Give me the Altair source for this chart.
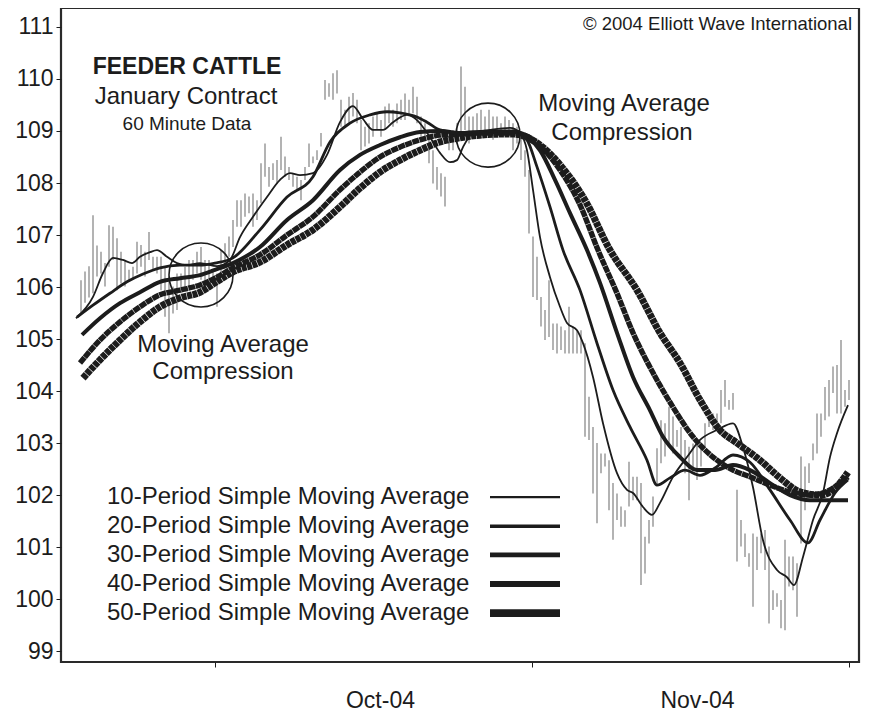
import altair as alt
import pandas as pd

# ---------------- data ----------------
FIRST_BAR = 5  # hourly bar index of the first bar
bar_high = [
    106.13, 106.30, 106.40, 107.38, 106.80, 106.68, 106.46, 107.19, 107.16, 106.94,
    106.68, 106.52, 106.33, 106.39, 106.87, 106.81, 106.68, 107.06, 106.58, 106.58,
    106.58, 106.39, 106.20, 106.01, 106.26, 106.26, 106.39, 106.52, 106.52, 106.68,
    106.77, 106.52, 106.52, 106.33, 106.26, 106.71, 106.84, 106.97, 107.29, 107.67,
    107.67, 107.80, 107.74, 107.80, 107.67, 108.38, 108.76, 108.31, 108.38, 108.44,
    108.89, 108.51, 108.31, 108.19, 108.12, 108.06, 108.31, 108.76, 108.51, 108.63,
    108.96, 109.98, 109.92, 110.11, 110.17, 109.60, 109.41, 109.66, 109.73, 109.60,
    109.21, 109.08, 109.15, 109.28, 109.34, 109.21, 109.47, 109.53, 109.41, 109.53,
    109.60, 109.72, 109.60, 109.85, 109.66, 109.28, 109.15, 108.89, 108.63, 108.31,
    108.19, 108.12, 108.89, 109.02, 109.15, 110.24, 109.85, 109.28, 109.28, 109.34,
    109.41, 109.28, 109.41, 109.28, 109.28, 109.15, 109.28, 109.21, 109.15, 109.08,
    108.89, 108.63, 108.25, 106.97, 106.58, 105.81, 105.56, 106.13, 105.30, 105.30,
    105.24, 105.17, 105.62, 105.24, 105.17, 105.17, 104.92, 103.89, 103.31, 103.00,
    102.80, 102.80, 102.67, 102.23, 102.03, 101.78, 101.71, 102.64, 102.35, 102.35,
    102.23, 101.20, 101.52, 101.97, 102.90, 103.44, 103.38, 103.70, 103.51, 103.25,
    103.31, 103.06, 102.93, 102.99, 103.06, 102.99, 103.38, 103.57, 103.57, 103.57,
    104.02, 104.21, 103.83, 103.96, 102.10, 101.52, 101.26, 100.88, 101.26, 101.20,
    101.26, 101.33, 101.01, 100.17, 100.11, 99.98, 101.14, 100.82, 100.82, 100.69,
    102.74, 102.55, 102.61, 102.99, 103.57, 103.57, 104.08, 104.21, 104.47, 104.50,
    104.98, 104.02, 104.21,
]
bar_low = [
    105.49, 105.70, 105.80, 105.88, 106.20, 106.26, 106.01, 106.39, 106.52, 105.94,
    106.07, 106.01, 106.10, 106.14, 106.26, 106.39, 106.20, 106.52, 106.33, 106.26,
    105.94, 105.43, 105.11, 105.49, 105.56, 105.88, 105.94, 106.01, 106.14, 106.26,
    106.14, 105.94, 105.94, 106.07, 105.62, 106.26, 106.39, 106.58, 106.77, 107.16,
    107.16, 107.35, 107.42, 107.16, 107.29, 107.61, 108.12, 107.93, 108.06, 107.99,
    108.25, 108.12, 108.06, 107.93, 107.87, 107.67, 108.06, 108.31, 108.38, 108.44,
    108.70, 109.60, 109.66, 109.60, 109.72, 109.08, 109.08, 109.15, 109.28, 109.15,
    108.63, 108.70, 108.76, 108.89, 109.02, 108.89, 109.02, 109.15, 109.08, 109.15,
    109.21, 109.21, 109.28, 109.34, 109.15, 108.89, 108.83, 108.38, 107.99, 107.87,
    107.74, 107.55, 108.63, 108.63, 108.76, 108.83, 109.02, 108.76, 108.89, 108.96,
    109.02, 108.96, 109.02, 108.83, 109.02, 108.89, 109.02, 108.96, 108.63, 108.76,
    108.44, 108.12, 107.03, 105.81, 105.75, 105.24, 104.98, 105.04, 104.79, 104.72,
    104.79, 104.72, 104.72, 104.72, 104.72, 104.72, 103.12, 103.06, 102.03, 101.46,
    102.42, 102.55, 101.71, 101.14, 101.52, 101.39, 101.39, 101.78, 101.90, 101.90,
    100.27, 100.49, 101.07, 101.39, 102.20, 102.61, 102.74, 102.93, 102.80, 102.93,
    102.74, 102.42, 101.90, 102.48, 102.29, 102.55, 102.93, 103.31, 103.25, 103.25,
    103.38, 103.70, 103.64, 103.64, 100.72, 101.01, 100.81, 100.62, 99.85, 100.56,
    100.88, 100.56, 99.53, 99.79, 99.85, 99.44, 99.40, 100.24, 100.17, 99.66,
    101.07, 101.71, 102.23, 102.67, 102.80, 103.12, 103.44, 103.51, 103.96, 103.57,
    103.57, 103.70, 103.83,
]

ma10_x = [3.75, 8, 10.5, 13, 15.5, 17.75, 19.75, 22.25, 24, 26.5, 29, 31.5, 34.75, 39, 42.25,
          44.75, 48, 51.5, 54.75, 57.25, 59.75, 63, 66.5, 69.75, 73, 75.5, 78, 80.5, 83, 86.5,
          89, 92.25, 94.75, 97.25, 99, 100.5, 103, 107.25, 112.25, 114.75, 116.5, 118, 119.75,
          122.25, 124.75, 126.5, 129, 130.5, 133, 135.5, 139, 141.5, 143, 145.5, 147.75, 149.75,
          153, 156.5, 159.75, 164, 168, 170.5, 173, 175.5, 179, 181.5, 183.25, 185.5, 188,
          190.5, 192.25, 194, 196.75]
ma10_y = [105.40, 105.81, 106.27, 106.56, 106.52, 106.46, 106.58, 106.67, 106.71, 106.58,
          106.46, 106.42, 106.46, 106.40, 106.52, 106.96, 107.35, 107.73, 108.06, 108.19,
          108.15, 108.19, 108.54, 109.17, 109.48, 109.23, 109.02, 109.02, 109.17, 109.31,
          109.21, 108.88, 108.58, 108.40, 108.44, 108.69, 108.96, 109.02, 109.06, 108.96,
          108.63, 107.87, 106.96, 106.19, 105.62, 105.31, 105.17, 104.92, 104.27, 103.38,
          102.42, 102.10, 102.04, 101.77, 101.62, 101.85, 102.35, 102.73, 103.06, 103.25,
          103.38, 102.92, 102.15, 101.13, 100.56, 100.42, 100.27, 100.81, 101.52, 102.04,
          102.73, 103.19, 103.73]

ma20_x = [4, 8, 12.25, 16.5, 20.5, 24.75, 29.75, 34.75, 38.5, 43, 49.75, 56.5, 63, 67.25,
          72.25, 77.25, 81.5, 84.75, 89, 91.5, 94.75, 99.75, 104.75, 109.75, 113.5, 116.5,
          119, 122.25, 125.5, 129.75, 134, 138, 142.25, 146.5, 149, 152.25, 156, 159.75,
          163.5, 168, 172.25, 177.25, 182.25, 186.75, 189.75, 193.5, 196.75]
ma20_y = [105.42, 105.65, 105.88, 106.10, 106.25, 106.37, 106.42, 106.42, 106.46, 106.56,
          107.10, 107.73, 108.12, 108.79, 109.15, 109.31, 109.37, 109.35, 109.27, 109.17,
          109.02, 108.96, 108.98, 109.00, 109.00, 108.83, 108.31, 107.54, 106.71, 105.94,
          104.92, 104.02, 103.31, 102.67, 102.19, 102.33, 102.48, 102.38, 102.52, 102.77,
          102.63, 102.10, 101.52, 101.08, 101.52, 102.04, 102.29]

ma30_x = [5.25, 9.75, 14.75, 19.75, 24.75, 29.75, 34.75, 38.5, 43, 49.75, 56.5, 63, 69.75,
          74.75, 79.75, 84.75, 89.75, 94.75, 99.75, 104.75, 109.75, 113.5, 116.5, 119.75,
          123.5, 127.25, 131.5, 134.75, 139, 143, 147.25, 150.5, 154.75, 159, 163.5, 168,
          172.25, 177.25, 182.25, 187.25, 192.25, 196.75]
ma30_y = [105.08, 105.40, 105.69, 105.90, 106.10, 106.17, 106.23, 106.33, 106.46, 106.77,
          107.29, 107.67, 108.25, 108.54, 108.73, 108.88, 108.98, 109.00, 108.96, 108.98,
          108.98, 108.98, 108.88, 108.63, 108.06, 107.42, 106.71, 106.08, 105.12, 104.27,
          103.63, 103.12, 102.73, 102.48, 102.48, 102.58, 102.48, 102.23, 102.00, 101.90,
          101.90, 101.90]

ma40_x = [4.75, 9.75, 14.75, 19.75, 24.75, 29.75, 34.75, 38.5, 43, 49.75, 56.5, 63, 69.75,
          74.75, 79.75, 84.75, 89.75, 94.75, 99.75, 104.75, 109.75, 113.5, 116.5, 119.75,
          124.75, 129.75, 134.25, 139, 143, 148, 153, 158, 163, 168, 172.25, 177.25, 182.25,
          187.25, 192.25, 196.75]
ma40_y = [104.54, 104.98, 105.33, 105.62, 105.85, 105.94, 106.04, 106.17, 106.37, 106.62,
          107.00, 107.35, 107.87, 108.21, 108.50, 108.69, 108.83, 108.92, 108.94, 108.96,
          108.96, 108.96, 108.90, 108.71, 108.25, 107.58, 106.71, 105.88, 105.12, 104.35,
          103.69, 103.12, 102.73, 102.48, 102.35, 102.19, 102.06, 102.00, 102.10, 102.35]

ma50_x = [5.5, 9.75, 14.75, 19.75, 24.75, 29.75, 34.75, 38.5, 43, 49.75, 56.5, 63, 69.75,
          74.75, 79.75, 84.75, 89.75, 94.75, 99.75, 104.75, 109.75, 113.5, 116.5, 119.75,
          124.75, 131, 137.25, 144, 149.75, 154.75, 159.75, 164.75, 169, 174.75, 179.75,
          184.75, 189.75, 193.5, 196.75]
ma50_y = [104.25, 104.60, 104.98, 105.33, 105.62, 105.79, 105.90, 106.08, 106.29, 106.48,
          106.81, 107.10, 107.54, 107.90, 108.21, 108.44, 108.63, 108.79, 108.87, 108.92,
          108.94, 108.94, 108.88, 108.73, 108.35, 107.67, 106.71, 105.94, 105.12, 104.54,
          103.83, 103.25, 103.00, 102.67, 102.33, 102.06, 102.00, 102.13, 102.44]

series_names = [
    "10-Period Simple Moving Average",
    "20-Period Simple Moving Average",
    "30-Period Simple Moving Average",
    "40-Period Simple Moving Average",
    "50-Period Simple Moving Average",
]
y_ticks = [99, 100, 101, 102, 103, 104, 105, 106, 107, 108, 109, 110, 111]
month_ticks = [38.5, 117.75, 197]
month_labels = ["Oct-04", "Nov-04", ""]

# ---------------- layout / style ----------------
FONT = "Liberation Sans"
INK = "#1c1c1c"
X_DOMAIN = [0, 199.5]
Y_DOMAIN = [98.79, 111.365]
xs = alt.Scale(domain=X_DOMAIN, nice=False, zero=False)
ys = alt.Scale(domain=Y_DOMAIN, nice=False, zero=False)

line_widths = [1.8, 2.8, 4.0, 5.4, 7.0]
line_dashes = [None, None, None, [7, 0.5], [5, 0.6]]

label_expr = " : ".join(
    f"datum.value == {v} ? '{t}'" for v, t in zip(month_ticks, month_labels)
) + " : ''"

x_axis = alt.Axis(
    values=month_ticks, labelExpr=label_expr, labelOffset=165, labelPadding=22,
    labelFontSize=23, labelFont=FONT, labelColor=INK, labelFlush=False,
    labelOverlap=False, tickSize=5, tickColor=INK, domain=False, grid=False, title=None,
)
y_axis = alt.Axis(
    values=y_ticks, format="d", labelFontSize=23, labelFont=FONT, labelColor=INK,
    labelPadding=3, tickSize=5, tickColor=INK, domain=False, grid=False, title=None,
)

bars = pd.DataFrame({
    "x": list(range(FIRST_BAR, FIRST_BAR + len(bar_high))),
    "high": bar_high,
    "low": bar_low,
})

base_bars = alt.Chart(bars).mark_rule(color="#9a9a9a", strokeWidth=1.5).encode(
    x=alt.X("x:Q", scale=xs, axis=x_axis),
    y=alt.Y("high:Q", scale=ys, axis=y_axis),
    y2="low:Q",
)

ma_x = [ma10_x, ma20_x, ma30_x, ma40_x, ma50_x]
ma_y = [ma10_y, ma20_y, ma30_y, ma40_y, ma50_y]

line_layers = []
for i in reversed(range(5)):
    df = pd.DataFrame({"x": ma_x[i], "y": ma_y[i]})
    kw = dict(color=INK, strokeWidth=line_widths[i], interpolate="monotone", clip=True)
    if line_dashes[i] is not None:
        kw["strokeDash"] = line_dashes[i]
    line_layers.append(
        alt.Chart(df).mark_line(**kw).encode(
            x=alt.X("x:Q", scale=xs), y=alt.Y("y:Q", scale=ys)
        )
    )

# legend (drawn in the plot, as in the reference)
legend_text_x = 11.5
legend_line_x = [107.25, 124.75]
legend_y = [101.96, 101.40, 100.85, 100.29, 99.73]
legend_df = pd.DataFrame({"label": series_names, "y": legend_y,
                          "x": [legend_text_x] * 5,
                          "x1": [legend_line_x[0]] * 5, "x2": [legend_line_x[1]] * 5})
legend_text = alt.Chart(legend_df).mark_text(
    align="left", baseline="middle", font=FONT, fontSize=24, color=INK
).encode(x=alt.X("x:Q", scale=xs), y=alt.Y("y:Q", scale=ys), text="label:N")

legend_rules = []
for i in range(5):
    d = legend_df.iloc[[i]]
    legend_rules.append(
        alt.Chart(d).mark_rule(color=INK, strokeWidth=line_widths[i] + 0.6).encode(
            x=alt.X("x1:Q", scale=xs), x2="x2:Q", y=alt.Y("y:Q", scale=ys)
        )
    )

# annotations
ann_df = pd.DataFrame({
    "text": ["Moving Average", "Compression", "Moving Average", "Compression",
             "January Contract"],
    "x": [40.5, 40.5, 140.75, 140.25, 31.25],
    "y": [104.88, 104.37, 109.52, 108.96, 109.65],
})
ann = alt.Chart(ann_df).mark_text(
    align="center", baseline="middle", font=FONT, fontSize=24, color=INK
).encode(x=alt.X("x:Q", scale=xs), y=alt.Y("y:Q", scale=ys), text="text:N")

title_df = pd.DataFrame({"text": ["FEEDER CATTLE"], "x": [31.5], "y": [110.23]})
title_t = alt.Chart(title_df).mark_text(
    align="center", baseline="middle", font=FONT, fontSize=23, fontWeight="bold", color=INK
).encode(x=alt.X("x:Q", scale=xs), y=alt.Y("y:Q", scale=ys), text="text:N")

sub_df = pd.DataFrame({"text": ["60 Minute Data"], "x": [31.5], "y": [109.13]})
sub_t = alt.Chart(sub_df).mark_text(
    align="center", baseline="middle", font=FONT, fontSize=19, color=INK
).encode(x=alt.X("x:Q", scale=xs), y=alt.Y("y:Q", scale=ys), text="text:N")

copy_df = pd.DataFrame({"text": ["© 2004 Elliott Wave International"], "x": [197.75], "y": [111.06]})
copy_t = alt.Chart(copy_df).mark_text(
    align="right", baseline="middle", font=FONT, fontSize=18.5, color=INK
).encode(x=alt.X("x:Q", scale=xs), y=alt.Y("y:Q", scale=ys), text="text:N")

circ_df = pd.DataFrame({"x": [35, 106.75], "y": [106.23, 108.92]})
circles = alt.Chart(circ_df).mark_point(
    shape="circle", filled=False, size=4096, strokeWidth=1.6, color=INK, opacity=1
).encode(x=alt.X("x:Q", scale=xs), y=alt.Y("y:Q", scale=ys))

chart = alt.layer(
    base_bars, *line_layers, circles, legend_text, *legend_rules, ann, title_t, sub_t, copy_t
).properties(
    width=798, height=654,
    autosize=alt.AutoSizeParams(type="none"),
    padding={"left": 53, "top": 0, "right": 2, "bottom": 51},
    background="white",
).configure_view(stroke="#2a2a2a", strokeWidth=2.2)

chart.save("out.html", embed_options={"renderer": "svg", "actions": False})
